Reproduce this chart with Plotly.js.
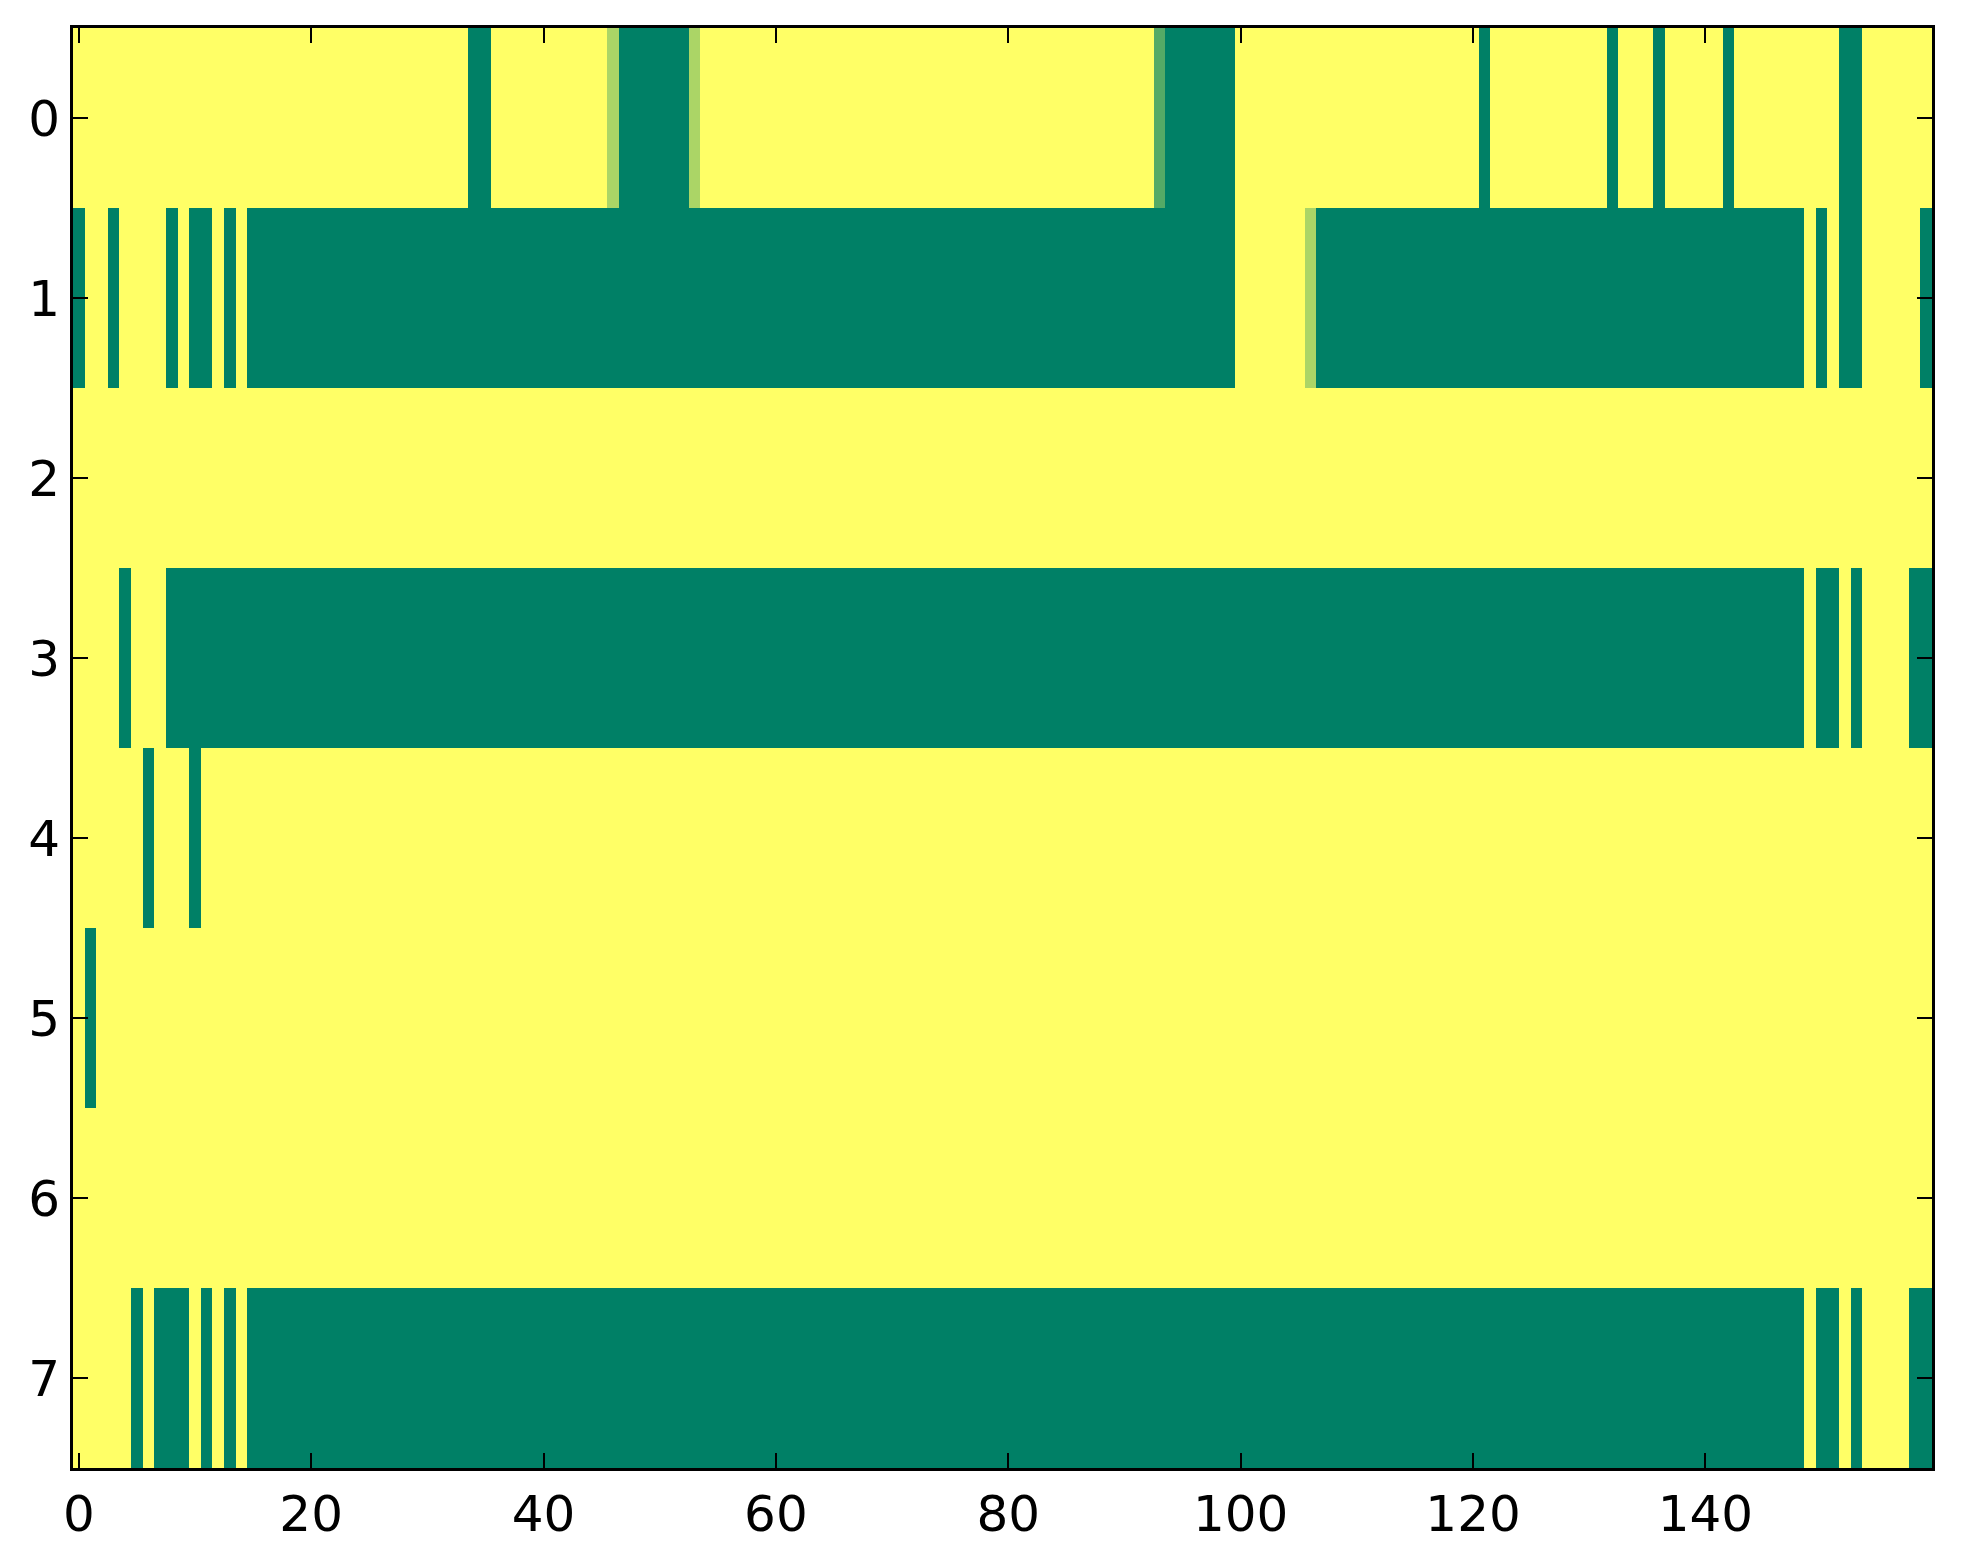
<!DOCTYPE html>
<html>
<head>
<meta charset="utf-8">
<script src="https://cdn.plot.ly/plotly-3.0.1.min.js"></script>
<style>
  html, body { margin: 0; padding: 0; background: #ffffff; }
  #chart { width: 1963px; height: 1564px; }
</style>
</head>
<body>
<div id="chart"></div>
<script>
// 8 rows x 160 columns (0, 1/3, 2/3, 1)
const row0 = [
  1,1,1,1,1,1,1,1,1,1,1,1,1,1,1,1,1,1,1,1,
  1,1,1,1,1,1,1,1,1,1,1,1,1,1,0,0,1,1,1,1,
  1,1,1,1,1,1,0.67,0,0,0,0,0,0,0.67,1,1,1,1,1,1,
  1,1,1,1,1,1,1,1,1,1,1,1,1,1,1,1,1,1,1,1,
  1,1,1,1,1,1,1,1,1,1,1,1,1,0.33,0,0,0,0,0,0,
  1,1,1,1,1,1,1,1,1,1,1,1,1,1,1,1,1,1,1,1,
  1,0,1,1,1,1,1,1,1,1,1,1,0,1,1,1,0,1,1,1,
  1,1,0,1,1,1,1,1,1,1,1,1,0,0,1,1,1,1,1,1
];
const row1 = [
  0,1,1,0,1,1,1,1,0,1,0,0,1,0,1,0,0,0,0,0,
  0,0,0,0,0,0,0,0,0,0,0,0,0,0,0,0,0,0,0,0,
  0,0,0,0,0,0,0,0,0,0,0,0,0,0,0,0,0,0,0,0,
  0,0,0,0,0,0,0,0,0,0,0,0,0,0,0,0,0,0,0,0,
  0,0,0,0,0,0,0,0,0,0,0,0,0,0,0,0,0,0,0,0,
  1,1,1,1,1,1,0.67,0,0,0,0,0,0,0,0,0,0,0,0,0,
  0,0,0,0,0,0,0,0,0,0,0,0,0,0,0,0,0,0,0,0,
  0,0,0,0,0,0,0,0,0,1,0,1,0,0,1,1,1,1,1,0
];
const row2 = [
  1,1,1,1,1,1,1,1,1,1,1,1,1,1,1,1,1,1,1,1,
  1,1,1,1,1,1,1,1,1,1,1,1,1,1,1,1,1,1,1,1,
  1,1,1,1,1,1,1,1,1,1,1,1,1,1,1,1,1,1,1,1,
  1,1,1,1,1,1,1,1,1,1,1,1,1,1,1,1,1,1,1,1,
  1,1,1,1,1,1,1,1,1,1,1,1,1,1,1,1,1,1,1,1,
  1,1,1,1,1,1,1,1,1,1,1,1,1,1,1,1,1,1,1,1,
  1,1,1,1,1,1,1,1,1,1,1,1,1,1,1,1,1,1,1,1,
  1,1,1,1,1,1,1,1,1,1,1,1,1,1,1,1,1,1,1,1
];
const row3 = [
  1,1,1,1,0,1,1,1,0,0,0,0,0,0,0,0,0,0,0,0,
  0,0,0,0,0,0,0,0,0,0,0,0,0,0,0,0,0,0,0,0,
  0,0,0,0,0,0,0,0,0,0,0,0,0,0,0,0,0,0,0,0,
  0,0,0,0,0,0,0,0,0,0,0,0,0,0,0,0,0,0,0,0,
  0,0,0,0,0,0,0,0,0,0,0,0,0,0,0,0,0,0,0,0,
  0,0,0,0,0,0,0,0,0,0,0,0,0,0,0,0,0,0,0,0,
  0,0,0,0,0,0,0,0,0,0,0,0,0,0,0,0,0,0,0,0,
  0,0,0,0,0,0,0,0,0,1,0,0,1,0,1,1,1,1,0,0
];
const row4 = [
  1,1,1,1,1,1,0,1,1,1,0,1,1,1,1,1,1,1,1,1,
  1,1,1,1,1,1,1,1,1,1,1,1,1,1,1,1,1,1,1,1,
  1,1,1,1,1,1,1,1,1,1,1,1,1,1,1,1,1,1,1,1,
  1,1,1,1,1,1,1,1,1,1,1,1,1,1,1,1,1,1,1,1,
  1,1,1,1,1,1,1,1,1,1,1,1,1,1,1,1,1,1,1,1,
  1,1,1,1,1,1,1,1,1,1,1,1,1,1,1,1,1,1,1,1,
  1,1,1,1,1,1,1,1,1,1,1,1,1,1,1,1,1,1,1,1,
  1,1,1,1,1,1,1,1,1,1,1,1,1,1,1,1,1,1,1,1
];
const row5 = [
  1,0,1,1,1,1,1,1,1,1,1,1,1,1,1,1,1,1,1,1,
  1,1,1,1,1,1,1,1,1,1,1,1,1,1,1,1,1,1,1,1,
  1,1,1,1,1,1,1,1,1,1,1,1,1,1,1,1,1,1,1,1,
  1,1,1,1,1,1,1,1,1,1,1,1,1,1,1,1,1,1,1,1,
  1,1,1,1,1,1,1,1,1,1,1,1,1,1,1,1,1,1,1,1,
  1,1,1,1,1,1,1,1,1,1,1,1,1,1,1,1,1,1,1,1,
  1,1,1,1,1,1,1,1,1,1,1,1,1,1,1,1,1,1,1,1,
  1,1,1,1,1,1,1,1,1,1,1,1,1,1,1,1,1,1,1,1
];
const row6 = [
  1,1,1,1,1,1,1,1,1,1,1,1,1,1,1,1,1,1,1,1,
  1,1,1,1,1,1,1,1,1,1,1,1,1,1,1,1,1,1,1,1,
  1,1,1,1,1,1,1,1,1,1,1,1,1,1,1,1,1,1,1,1,
  1,1,1,1,1,1,1,1,1,1,1,1,1,1,1,1,1,1,1,1,
  1,1,1,1,1,1,1,1,1,1,1,1,1,1,1,1,1,1,1,1,
  1,1,1,1,1,1,1,1,1,1,1,1,1,1,1,1,1,1,1,1,
  1,1,1,1,1,1,1,1,1,1,1,1,1,1,1,1,1,1,1,1,
  1,1,1,1,1,1,1,1,1,1,1,1,1,1,1,1,1,1,1,1
];
const row7 = [
  1,1,1,1,1,0,1,0,0,0,1,0,1,0,1,0,0,0,0,0,
  0,0,0,0,0,0,0,0,0,0,0,0,0,0,0,0,0,0,0,0,
  0,0,0,0,0,0,0,0,0,0,0,0,0,0,0,0,0,0,0,0,
  0,0,0,0,0,0,0,0,0,0,0,0,0,0,0,0,0,0,0,0,
  0,0,0,0,0,0,0,0,0,0,0,0,0,0,0,0,0,0,0,0,
  0,0,0,0,0,0,0,0,0,0,0,0,0,0,0,0,0,0,0,0,
  0,0,0,0,0,0,0,0,0,0,0,0,0,0,0,0,0,0,0,0,
  0,0,0,0,0,0,0,0,0,1,0,0,1,0,1,1,1,1,0,0
];

const xTicks = [0, 20, 40, 60, 80, 100, 120, 140];
const yTicks = [0, 1, 2, 3, 4, 5, 6, 7];

// matplotlib "summer": green -> yellow
const summer = [[0, 'rgb(0,128,102)'], [1, 'rgb(255,255,102)']];

const z = [row0, row1, row2, row3, row4, row5, row6, row7];

const trace = {
    type: 'heatmap',
    z: z,
    colorscale: summer,
    zmin: 0,
    zmax: 1,
    showscale: false,
    hoverinfo: 'skip'
};

const axisStyle = {
    showline: true,
    linecolor: '#000',
    linewidth: 3,
    mirror: 'ticks',
    ticks: 'inside',
    ticklen: 15,
    tickwidth: 2,
    tickcolor: '#000',
    showgrid: false,
    zeroline: false,
    tickfont: { family: 'DejaVu Sans', size: 50, color: '#000' }
};

const layout = {
    width: 1963,
    height: 1564,
    margin: { l: 73, r: 31, t: 28, b: 96 },
    paper_bgcolor: '#fff',
    plot_bgcolor: '#fff',
    xaxis: Object.assign({}, axisStyle, {
        range: [-0.5, 159.5],
        tickvals: xTicks,
        ticktext: xTicks.map(String)
    }),
    yaxis: Object.assign({}, axisStyle, {
        range: [7.5, -0.5],
        tickvals: yTicks,
        ticktext: yTicks.map(String)
    })
};

Plotly.newPlot('chart', [trace], layout, { staticPlot: true });
</script>
</body>
</html>
